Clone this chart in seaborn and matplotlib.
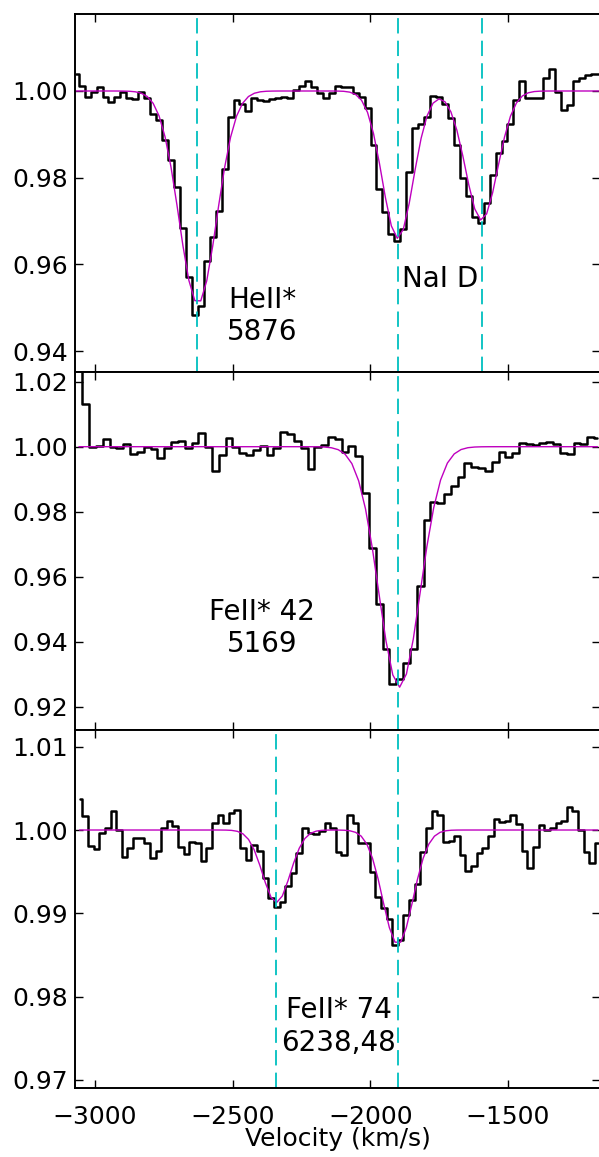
import numpy as np
import matplotlib
matplotlib.use("Agg")
import matplotlib.pyplot as plt
import seaborn as sns

# ---------------- data ----------------
# Panel 1: HeI* 5876 / NaI D region (binned spectrum, first bin centre and bin width in km/s)
he_v0, he_dv = -3069.4, 21.62
he_flux = [
    1.0039, 1.0012, 0.9985, 0.9997, 1.0010, 0.9987, 0.9974, 0.9985, 0.9997, 0.9983,
    0.9981, 0.9998, 0.9984, 0.9948, 0.9933, 0.9886, 0.9840, 0.9778, 0.9683, 0.9570,
    0.9483, 0.9503, 0.9608, 0.9663, 0.9724, 0.9821, 0.9941, 0.9979, 0.9971, 0.9954,
    0.9983, 0.9979, 0.9977, 0.9981, 0.9983, 0.9985, 0.9983, 1.0002, 1.0012, 1.0022,
    1.0010, 0.9995, 0.9983, 0.9995, 1.0012, 1.0010, 1.0010, 0.9995, 0.9985, 0.9961,
    0.9875, 0.9775, 0.9720, 0.9670, 0.9655, 0.9682, 0.9813, 0.9915, 0.9925, 0.9941,
    0.9989, 0.9985, 0.9969, 0.9937, 0.9876, 0.9799, 0.9758, 0.9709, 0.9696, 0.9742,
    0.9807, 0.9856, 0.9884, 0.9923, 0.9979, 1.0024, 0.9983, 0.9983, 0.9983, 1.0029,
    1.0051, 0.9998, 0.9956, 0.9968, 1.0022, 1.0029, 1.0036, 1.0039, 1.0039,
]
he_centers = [-2626.0, -1900.0, -1596.0]
he_depths = [0.049, 0.0340, 0.0298]
he_sigmas = [68.0, 56.0, 58.0]
he_marks = [-2628.0, -1900.0, -1596.0]

# Panel 2: FeII* 42 5169
fe42_v0, fe42_dv = -3057.7, 24.77
fe42_flux = [
    1.0300, 1.0130, 1.0000, 1.0003, 1.0024, 1.0000, 0.9995, 1.0007, 0.9977, 0.9983,
    1.0000, 0.9993, 0.9966, 0.9995, 1.0015, 1.0017, 0.9997, 1.0010, 1.0041, 1.0000,
    0.9925, 0.9974, 1.0028, 1.0000, 0.9980, 0.9975, 0.9990, 1.0003, 0.9975, 0.9997,
    1.0044, 1.0038, 1.0018, 0.9997, 0.9931, 1.0000, 1.0005, 1.0031, 1.0024, 0.9985,
    1.0002, 0.9971, 0.9859, 0.9687, 0.9516, 0.9377, 0.9270, 0.9284, 0.9333, 0.9377,
    0.9571, 0.9774, 0.9831, 0.9828, 0.9854, 0.9879, 0.9908, 0.9951, 0.9939, 0.9933,
    0.9926, 0.9954, 0.9985, 0.9967, 0.9982, 1.0012, 1.0008, 1.0005, 1.0012, 1.0016,
    1.0008, 0.9980, 0.9977, 1.0012, 1.0008, 1.0031, 1.0026,
]
fe42_centers = [-1894.0]
fe42_depths = [0.074]
fe42_sigmas = [75.0]
fe42_marks = [-1900.0]

# Panel 3: FeII* 74 6238,48
fe74_v0, fe74_dv = -3055.5, 20.45
fe74_flux = [
    1.0037, 1.0017, 0.9981, 0.9977, 0.9996, 1.0003, 1.0023, 1.0000, 0.9968, 0.9979,
    0.9990, 0.9990, 0.9985, 0.9966, 0.9975, 1.0003, 1.0011, 1.0005, 0.9980, 0.9971,
    0.9986, 0.9984, 0.9963, 0.9979, 1.0008, 1.0018, 1.0008, 1.0021, 1.0024, 0.9979,
    0.9964, 0.9982, 0.9975, 0.9942, 0.9918, 0.9908, 0.9914, 0.9933, 0.9948, 0.9973,
    1.0002, 0.9997, 0.9995, 0.9999, 1.0008, 1.0002, 0.9974, 0.9970, 1.0018, 1.0009,
    0.9985, 0.9984, 0.9950, 0.9919, 0.9906, 0.9893, 0.9862, 0.9868, 0.9898, 0.9916,
    0.9935, 0.9974, 1.0003, 1.0023, 1.0018, 0.9986, 0.9987, 0.9993, 0.9970, 0.9951,
    0.9957, 0.9973, 0.9978, 0.9993, 1.0013, 1.0010, 1.0011, 1.0018, 1.0007, 0.9975,
    0.9955, 0.9980, 1.0006, 1.0000, 1.0002, 1.0008, 1.0011, 1.0028, 1.0023, 1.0000,
    0.9974, 0.9961, 0.9984,
]
fe74_centers = [-2341.0, -1900.0]
fe74_depths = [0.0087, 0.0137]
fe74_sigmas = [50.0, 55.0]
fe74_marks = [-2341.0, -1900.0]

labels = ["HeII*\n5876", "FeII* 42\n5169", "FeII* 74\n6238,48"]
label_pos = [(-2393, 0.9481), (-2393, 0.9442), (-2115, 0.97641)]
extra_label = ("NaI D", -1746, 0.9566)

ylims = [(0.93518, 1.01776), (0.91283, 1.02298), (0.96903, 1.0120)]
yticks = [[0.94, 0.96, 0.98, 1.00],
          [0.92, 0.94, 0.96, 0.98, 1.00, 1.02],
          [0.97, 0.98, 0.99, 1.00, 1.01]]
xlim = (-3072, -1166)
xticks = [-3000, -2500, -2000, -1500]

DATA_C = "black"
MODEL_C = "#bf00bf"
MARK_C = "#00bfbf"

# ---------------- style ----------------
sns.set_theme(style="ticks")
plt.rcParams.update({
    "font.family": ["DejaVu Sans"],
    "axes.edgecolor": "black",
    "axes.linewidth": 1.4,
    "xtick.direction": "in",
    "ytick.direction": "in",
    "xtick.color": "black",
    "ytick.color": "black",
    "xtick.major.size": 5.5,
    "ytick.major.size": 5.5,
    "xtick.major.width": 1.0,
    "ytick.major.width": 1.0,
    "xtick.labelsize": 18,
    "ytick.labelsize": 18,
    "axes.labelsize": 18,
    "text.color": "black",
    "axes.labelcolor": "black",
})

fig, axes = plt.subplots(3, 1, sharex=True, figsize=(5.99, 11.57), dpi=100,
                         gridspec_kw=dict(hspace=0))
fig.subplots_adjust(left=0.1252, right=1.0017, top=0.9879, bottom=0.0596)


def model(v, centers, depths, sigmas):
    prof = np.ones_like(v)
    for c, d, s in zip(centers, depths, sigmas):
        prof -= d * np.exp(-0.5 * ((v - c) / s) ** 2)
    return prof


panels = [
    (he_v0, he_dv, he_flux, he_centers, he_depths, he_sigmas, he_marks),
    (fe42_v0, fe42_dv, fe42_flux, fe42_centers, fe42_depths, fe42_sigmas, fe42_marks),
    (fe74_v0, fe74_dv, fe74_flux, fe74_centers, fe74_depths, fe74_sigmas, fe74_marks),
]

for i, (ax, (v0, dv, flux, cen, dep, sig, marks)) in enumerate(zip(axes, panels)):
    flux = np.asarray(flux)
    vel = v0 + dv * np.arange(len(flux))
    sns.lineplot(x=vel, y=flux, ax=ax, color=DATA_C, lw=1.8,
                 drawstyle="steps-mid", estimator=None, sort=False)
    sns.lineplot(x=vel, y=model(vel, cen, dep, sig), ax=ax, color=MODEL_C, lw=1.0,
                 estimator=None, sort=False)
    for m in marks:
        ax.axvline(m, color=MARK_C, lw=1.3, linestyle=(0, (8.5, 4)))
    ax.set_ylim(*ylims[i])
    ax.set_yticks(yticks[i])
    ax.set_yticklabels([f"{t:.2f}" for t in yticks[i]])
    ax.tick_params(top=True, right=True)
    ax.tick_params(axis="y", pad=4.8)
    ax.text(label_pos[i][0], label_pos[i][1], labels[i], ha="center", va="center",
            fontsize=20, multialignment="center")
    ax.set_ylabel("")
    for s in ax.spines.values():
        s.set_visible(True)

axes[0].text(extra_label[1], extra_label[2], extra_label[0], ha="center",
             va="center", fontsize=20)

axes[2].set_xlim(*xlim)
axes[2].set_xticks(xticks)
axes[2].tick_params(axis="x", pad=12)
axes[2].set_xlabel("Velocity (km/s)", va="top")
axes[2].xaxis.set_label_coords(0.5, -0.1075)

fig.savefig("out.png", dpi=100)
